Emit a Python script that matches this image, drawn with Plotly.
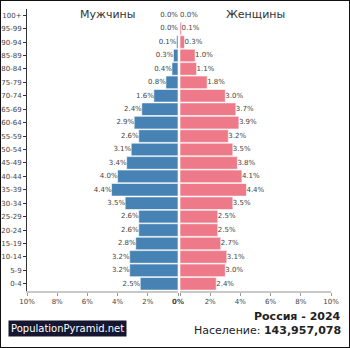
import plotly.graph_objects as go

ages = ["100+", "95-99", "90-94", "85-89", "80-84", "75-79", "70-74", "65-69",
        "60-64", "55-59", "50-54", "45-49", "40-44", "35-39", "30-34", "25-29",
        "20-24", "15-19", "10-14", "5-9", "0-4"]
male = [0.0, 0.0, 0.1, 0.3, 0.4, 0.8, 1.6, 2.4, 2.9, 2.6, 3.1, 3.4, 4.0, 4.4,
        3.5, 2.6, 2.6, 2.8, 3.2, 3.2, 2.5]
female = [0.0, 0.1, 0.3, 1.0, 1.1, 1.8, 3.0, 3.7, 3.9, 3.2, 3.5, 3.8, 4.1, 4.4,
          3.5, 2.5, 2.5, 2.7, 3.1, 3.0, 2.4]
tick_vals = [0, 2, 4, 6, 8, 10]
tick_text_left = ["<b>0%</b>", "2%", "4%", "6%", "8%", "10%"]
tick_text_right = ["", "2%", "4%", "6%", "8%", "10%"]

W, H = 350, 348
FONT = "DejaVu Sans"
LBL = dict(family=FONT, size=7, color="#444")

fig = go.Figure()
fig.add_trace(go.Bar(
    y=ages, x=male, orientation="h", xaxis="x", yaxis="y",
    marker=dict(color="#4682b4", line=dict(color="#ffffff", width=0.6)),
    showlegend=False, hoverinfo="skip"))
fig.add_trace(go.Bar(
    y=ages, x=female, orientation="h", xaxis="x2", yaxis="y",
    marker=dict(color="#ee7989", line=dict(color="#ffffff", width=0.6)),
    showlegend=False, hoverinfo="skip"))
# value labels
fig.add_trace(go.Scatter(
    y=ages, x=male, xaxis="x", yaxis="y", mode="text",
    text=[f"{v:.1f}%" for v in male], textposition="middle left",
    textfont=LBL, cliponaxis=False, showlegend=False, hoverinfo="skip"))
fig.add_trace(go.Scatter(
    y=ages, x=female, xaxis="x2", yaxis="y", mode="text",
    text=[f"{v:.1f}%" for v in female], textposition="middle right",
    textfont=LBL, cliponaxis=False, showlegend=False, hoverinfo="skip"))

xl0, xl1 = 27 / W, 178 / W
xr0, xr1 = 180 / W, 331 / W
y0, y1 = 1 - 290.5 / H, 1 - 8.5 / H

axis_common = dict(
    tickvals=tick_vals, showgrid=False, zeroline=False, automargin=False,
    showline=True, linecolor="#c8c8c8", linewidth=2, ticks="outside",
    ticklen=3, tickcolor="#999", tickfont=dict(family=FONT, size=7, color="#444"),
    fixedrange=True)

fig.update_layout(
    template="none",
    width=W, height=H,
    margin=dict(l=0, r=0, t=0, b=0, autoexpand=False),
    paper_bgcolor="white", plot_bgcolor="white",
    bargap=0.06,
    xaxis=dict(domain=[xl0, xl1], range=[10, 0], anchor="y",
               ticktext=tick_text_left, **axis_common),
    xaxis2=dict(domain=[xr0, xr1], range=[0, 10], anchor="y",
                ticktext=tick_text_right, **axis_common),
    yaxis=dict(domain=[y0, y1], anchor="x", range=[len(ages) - 0.5, -0.5],
               categoryorder="array", categoryarray=ages, automargin=False,
               showline=True, linecolor="#333", linewidth=1, ticks="outside",
               ticklen=3, tickcolor="#333", showgrid=False, zeroline=False,
               tickfont=dict(family=FONT, size=7, color="#444"), fixedrange=True),
    annotations=[
        dict(x=107 / W, y=1 - 14 / H, xref="paper", yref="paper", text="Мужчины",
             showarrow=False, font=dict(family=FONT, size=11, color="#333"),
             xanchor="center", yanchor="middle"),
        dict(x=255 / W, y=1 - 14 / H, xref="paper", yref="paper", text="Женщины",
             showarrow=False, font=dict(family=FONT, size=11, color="#333"),
             xanchor="center", yanchor="middle"),
        dict(x=343 / W, y=1 - 316 / H, xref="paper", yref="paper",
             text="<b>Россия - 2024</b>", showarrow=False,
             font=dict(family=FONT, size=11, color="#222"),
             xanchor="right", yanchor="middle"),
        dict(x=343 / W, y=1 - 330 / H, xref="paper", yref="paper",
             text="Население: <b>143,957,078</b>", showarrow=False,
             font=dict(family=FONT, size=11, color="#222"),
             xanchor="right", yanchor="middle"),
        dict(x=8 / W, y=1 - 328.5 / H, xref="paper", yref="paper",
             text="PopulationPyramid.net", showarrow=False,
             font=dict(family=FONT, size=10, color="white"),
             bgcolor="#161630", borderpad=2,
             xanchor="left", yanchor="middle"),
    ],
    shapes=[
        dict(type="rect", xref="paper", yref="paper", x0=0, x1=1, y0=0, y1=1,
             line=dict(color="#111", width=2), fillcolor="rgba(0,0,0,0)"),
    ],
)

fig.write_html("out.html")
